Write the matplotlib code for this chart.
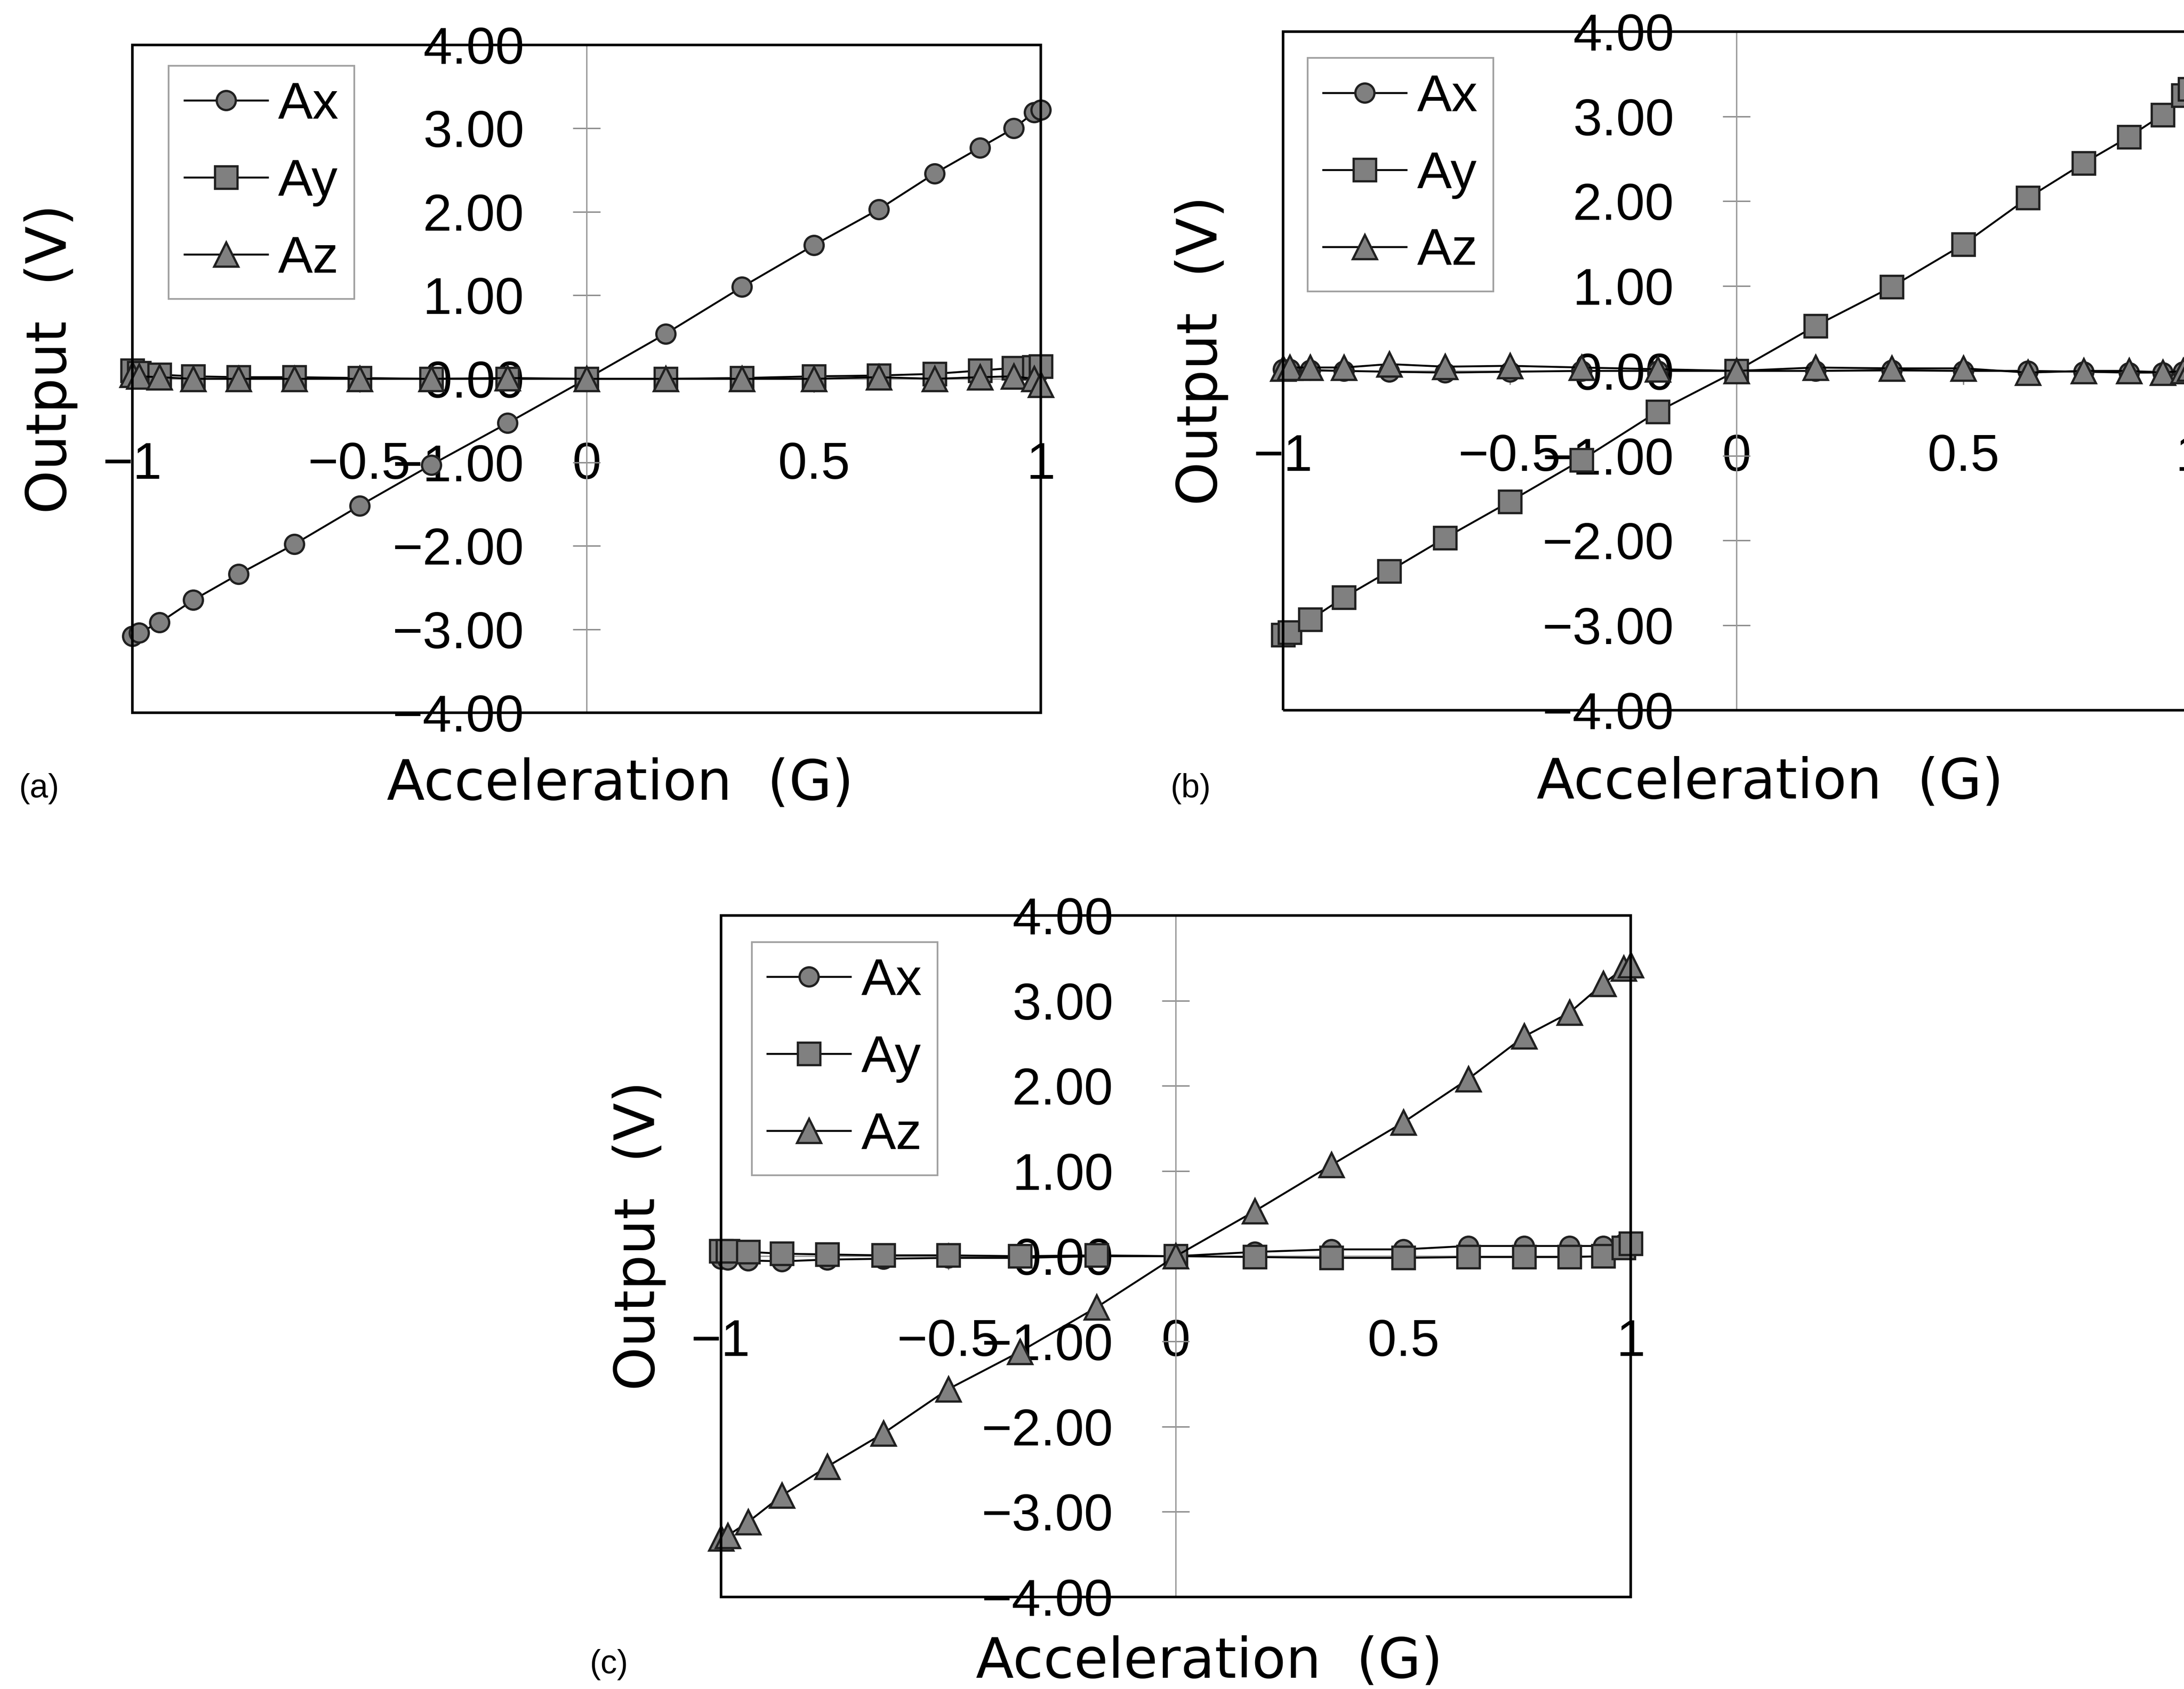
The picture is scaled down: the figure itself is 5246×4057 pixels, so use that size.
import numpy as np
import matplotlib
matplotlib.use('Agg')
import matplotlib.pyplot as plt
from matplotlib.patches import Rectangle
from matplotlib.ticker import FuncFormatter

# acceleration steps (G) shared by all three panels
accel = [-1.0, -0.985, -0.94, -0.866, -0.766, -0.643, -0.5, -0.342, -0.174, 0.0,
         0.174, 0.342, 0.5, 0.643, 0.766, 0.866, 0.94, 0.985, 1.0]

# (a) x axis along gravity
a_ax = [-3.08, -3.04, -2.92, -2.65, -2.34, -1.98, -1.52, -1.03, -0.53, 0.0,
        0.54, 1.10, 1.60, 2.03, 2.46, 2.77, 3.00, 3.19, 3.22]
a_ay = [0.10, 0.07, 0.05, 0.03, 0.02, 0.02, 0.01, 0.0, 0.0, 0.0,
        0.0, 0.01, 0.03, 0.04, 0.06, 0.10, 0.13, 0.14, 0.15]
a_az = [0.05, 0.03, 0.02, 0.0, 0.0, 0.0, 0.0, 0.0, 0.01, 0.0,
        0.0, 0.0, 0.0, 0.02, 0.0, 0.02, 0.03, 0.0, -0.07]

# (b) y axis along gravity
b_ax = [0.02, 0.02, 0.01, 0.0, -0.01, -0.02, -0.01, 0.0, 0.0, 0.0,
        0.0, 0.01, 0.0, 0.0, -0.01, -0.02, -0.02, -0.01, 0.0]
b_ay = [-3.11, -3.08, -2.93, -2.67, -2.36, -1.97, -1.54, -1.05, -0.48, 0.0,
        0.53, 0.99, 1.49, 2.04, 2.45, 2.76, 3.02, 3.25, 3.32]
b_az = [0.03, 0.04, 0.04, 0.04, 0.08, 0.05, 0.06, 0.04, 0.02, 0.0,
        0.04, 0.03, 0.03, -0.02, 0.0, 0.0, -0.02, 0.0, 0.03]

# (c) z axis along gravity
c_ax = [-0.03, -0.04, -0.05, -0.06, -0.04, -0.03, -0.02, -0.02, 0.0, 0.0,
        0.05, 0.08, 0.08, 0.12, 0.12, 0.12, 0.12, 0.15, 0.15]
c_ay = [0.06, 0.06, 0.05, 0.03, 0.02, 0.01, 0.01, 0.0, 0.01, 0.0,
        -0.01, -0.02, -0.02, -0.01, -0.01, -0.01, 0.0, 0.10, 0.15]
c_az = [-3.31, -3.28, -3.12, -2.81, -2.47, -2.08, -1.56, -1.12, -0.60, 0.0,
        0.53, 1.07, 1.57, 2.08, 2.58, 2.86, 3.20, 3.38, 3.42]

series_names = ['Ax', 'Ay', 'Az']
x_ticks = [-1, -0.5, 0, 0.5, 1]
y_ticks = [-4, -3, -2, -1, 0, 1, 2, 3, 4]

markers = {'Ax': ('o', 11), 'Ay': ('s', 13), 'Az': ('^', 14)}
face = '#808080'
tick_font = 'Liberation Sans'


def fmt_x(v, pos):
    return ('%g' % v).replace('-', '\u2212')


def fmt_y(v, pos):
    return ('%.2f' % v).replace('-', '\u2212')


def panel(ax, data, leg_anchor, xlab_y=-0.13):
    for name, vals in zip(series_names, data):
        m, ms = markers[name]
        ax.plot(accel, vals, color='black', lw=1.1, marker=m, ms=ms,
                mfc=face, mec='#202020', mew=1.3, label=name,
                clip_on=False, zorder=3)
    ax.set_xlim(-1, 1)
    ax.set_ylim(-4, 4)
    ax.spines['left'].set_position(('data', 0))
    ax.spines['bottom'].set_position(('data', 0))
    for s in ['left', 'bottom']:
        ax.spines[s].set_color('#9a9a9a')
        ax.spines[s].set_linewidth(0.8)
    ax.spines['top'].set_visible(False)
    ax.spines['right'].set_visible(False)
    ax.add_patch(Rectangle((0, 0), 1, 1, transform=ax.transAxes, fill=False,
                           ec='black', lw=1.5, clip_on=False, zorder=4))
    ax.set_xticks(x_ticks)
    ax.set_yticks(y_ticks)
    ax.xaxis.set_major_formatter(FuncFormatter(fmt_x))
    ax.yaxis.set_major_formatter(FuncFormatter(fmt_y))
    ax.tick_params(direction='inout', length=16, width=0.8, color='#8a8a8a',
                   labelsize=30, pad=28)
    for lab in ax.get_xticklabels() + ax.get_yticklabels():
        lab.set_family(tick_font)
    ax.text(0.537, xlab_y, 'Acceleration  (G)', transform=ax.transAxes,
            ha='center', va='baseline', fontsize=32, family='DejaVu Sans')
    ax.text(-0.09, 0.53, 'Output  (V)', transform=ax.transAxes, rotation=90,
            ha='center', va='center', fontsize=32, family='DejaVu Sans')
    leg = ax.legend(loc='upper left', bbox_to_anchor=leg_anchor, borderaxespad=0,
                    frameon=True, fancybox=False, handlelength=1.6,
                    handletextpad=0.2, labelspacing=0.55, borderpad=0.3,
                    prop={'family': tick_font, 'size': 30})
    leg.get_frame().set_edgecolor('#8a8a8a')
    leg.get_frame().set_linewidth(1.0)
    leg.set_zorder(5)


fig = plt.figure(figsize=(5247 / 300, 4057 / 300), dpi=300)

ax1 = fig.add_axes([0.0606, 0.5780, 0.4159, 0.3954])
ax2 = fig.add_axes([0.5874, 0.5795, 0.4151, 0.4018])
ax3 = fig.add_axes([0.3300, 0.0545, 0.4165, 0.4035])

panel(ax1, [a_ax, a_ay, a_az], (0.040, 0.969))
panel(ax2, [b_ax, b_ay, b_az], (0.027, 0.961))
panel(ax3, [c_ax, c_ay, c_az], (0.034, 0.961), xlab_y=-0.118)

fig.text(0.0179, 0.533, '(a)', ha='center', va='center', fontsize=19, family=tick_font)
fig.text(0.545, 0.533, '(b)', ha='center', va='center', fontsize=19, family=tick_font)
fig.text(0.2786, 0.0145, '(c)', ha='center', va='center', fontsize=19, family=tick_font)

fig.savefig('out.png', dpi=300)
